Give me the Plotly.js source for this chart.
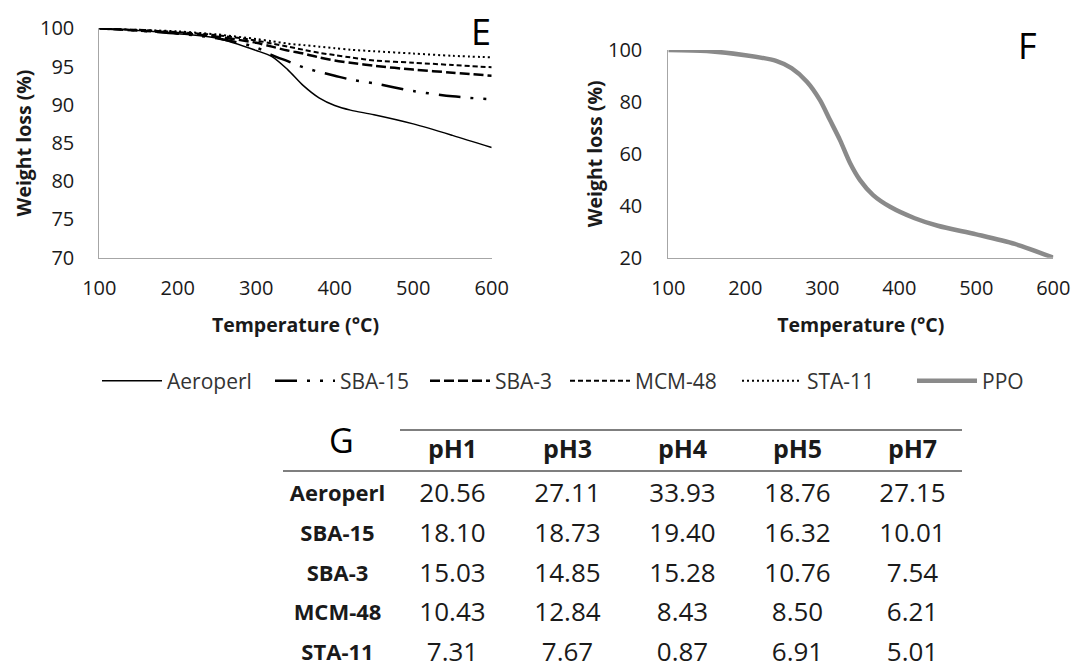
<!DOCTYPE html>
<html><head><meta charset="utf-8">
<script src="https://cdn.plot.ly/plotly-3.0.1.min.js"></script>
<style>html,body{margin:0;padding:0;background:#fff}#chart{width:1073px;height:671px}</style>
</head><body><div id="chart"></div>
<script>
// ---- Panel E data (TGA of loaded carriers) ----
const tempE    = [100,150,200,250,300,320,340,360,380,400,420,450,500,550,600];
const aeroperl = [100,99.7,99.3,98.7,97.1,96.3,94.6,92.5,90.9,89.9,89.3,88.7,87.5,86.0,84.4];
const sba15    = [100,99.7,99.3,98.7,97.5,96.5,95.7,94.9,94.3,93.8,93.3,92.8,91.8,91.1,90.7];
const sba3     = [100,99.7,99.4,98.9,98.1,97.6,97.1,96.7,96.2,95.8,95.5,95.1,94.6,94.2,93.8];
const mcm48    = [100,99.8,99.5,99.1,98.4,98.0,97.6,97.2,96.8,96.5,96.2,95.8,95.5,95.2,94.9];
const sta11    = [100,99.8,99.6,99.2,98.6,98.3,98.0,97.8,97.6,97.4,97.2,97.0,96.7,96.4,96.2];
// ---- Panel F data (pure PPO) ----
const tempF = [100,150,200,240,260,280,297,310,323,336,349,366,388,420,450,500,550,600];
const ppo   = [100,99.6,98.0,95.8,93.0,87.8,80.7,73.0,65.3,56.5,49.9,44.1,39.6,35.2,32.3,29.0,25.3,20.0];
// ---- Panel G table ----
const labelCol  = 'Sample';
const rowLabels = ['Aeroperl','SBA-15','SBA-3','MCM-48','STA-11'];
const phLabels  = ['pH1','pH3','pH4','pH5','pH7'];
const pH1 = [20.56,18.10,15.03,10.43,7.31];
const pH3 = [27.11,18.73,14.85,12.84,7.67];
const pH4 = [33.93,19.40,15.28,8.43,0.87];
const pH5 = [18.76,16.32,10.76,8.50,6.91];
const pH7 = [27.15,10.01,7.54,6.21,5.01];

const W = 1073, H = 671;
const px = v => v / W, py = v => 1 - v / H;
const FONT = 'Open Sans, Lato, sans-serif';
const TXT = '#1a1a1a';
const AX = '#a6a6a6';

const phCols = [pH1, pH3, pH4, pH5, pH7];
const tX = [], tY = [], tT = [];
phCols.forEach((col, j) => col.forEach((v, i) => { tX.push(phLabels[j]); tY.push(rowLabels[i]); tT.push(v.toFixed(2)); }));

const traces = [
  {x: tempE, y: aeroperl, name: 'Aeroperl', type: 'scatter', mode: 'lines', line: {color: '#000', width: 1.5, shape: 'spline', smoothing: 0.8}, legendwidth: 98, xaxis: 'x', yaxis: 'y'},
  {x: tempE, y: sba15, name: 'SBA-15', type: 'scatter', mode: 'lines', line: {color: '#000', width: 2.5, dash: '22px,10px,3px,10px,3px,10px', shape: 'spline', smoothing: 0.8}, legendwidth: 80, xaxis: 'x', yaxis: 'y'},
  {x: tempE, y: sba3, name: 'SBA-3', type: 'scatter', mode: 'lines', line: {color: '#000', width: 2.5, dash: '10px,4px', shape: 'spline', smoothing: 0.8}, legendwidth: 65, xaxis: 'x', yaxis: 'y'},
  {x: tempE, y: mcm48, name: 'MCM-48', type: 'scatter', mode: 'lines', line: {color: '#000', width: 2, dash: '5px,3px', shape: 'spline', smoothing: 0.8}, legendwidth: 97, xaxis: 'x', yaxis: 'y'},
  {x: tempE, y: sta11, name: 'STA-11', type: 'scatter', mode: 'lines', line: {color: '#000', width: 2, dash: '2px,3px', shape: 'spline', smoothing: 0.8}, legendwidth: 100, xaxis: 'x', yaxis: 'y'},
  {x: tempF, y: ppo, name: 'PPO', type: 'scatter', mode: 'lines', line: {color: '#8a8a8a', width: 4.5, shape: 'spline', smoothing: 0.8}, xaxis: 'x2', yaxis: 'y2'},
  // table: row labels
  {x: rowLabels.map(() => labelCol), y: rowLabels, text: rowLabels, type: 'scatter', mode: 'text', showlegend: false, cliponaxis: false,
   textfont: {family: FONT, size: 22, color: TXT, weight: 'bold'}, xaxis: 'x3', yaxis: 'y3', hoverinfo: 'skip'},
  // table: values
  {x: tX, y: tY, text: tT, type: 'scatter', mode: 'text', showlegend: false, cliponaxis: false,
   textfont: {family: FONT, size: 26, color: TXT}, xaxis: 'x3', yaxis: 'y3', hoverinfo: 'skip'}
];

const axisCommon = {
  showline: true, linecolor: AX, linewidth: 1, showgrid: false, zeroline: false,
  ticks: 'outside', tickcolor: 'rgba(0,0,0,0)', tickfont: {family: FONT, size: 20, color: TXT},
  fixedrange: true
};
const titleFont = {family: FONT, size: 19.5, color: TXT, weight: 'bold'};

const layout = {
  width: W, height: H,
  margin: {l: 0, r: 0, t: 0, b: 0},
  paper_bgcolor: '#fff', plot_bgcolor: 'rgba(0,0,0,0)',
  font: {family: FONT, color: TXT},
  showlegend: true,
  legend: {
    orientation: 'h', x: px(97), xanchor: 'left', y: py(381), yanchor: 'middle', itemwidth: 60,
    font: {family: FONT, size: 21, color: '#333'}, bgcolor: 'rgba(0,0,0,0)'
  },
  xaxis: Object.assign({}, axisCommon, {
    domain: [px(99.3), px(491.7)], range: [100, 600], dtick: 100, ticklen: 12, anchor: 'y',
    title: {text: 'Temperature (°C)', font: titleFont, standoff: 18}
  }),
  yaxis: Object.assign({}, axisCommon, {
    domain: [py(257.7), py(28.3)], range: [70, 100], dtick: 5, ticklen: 20, anchor: 'x',
    title: {text: 'Weight loss (%)', font: titleFont, standoff: 3}
  }),
  xaxis2: Object.assign({}, axisCommon, {
    domain: [px(668.3), px(1053.3)], range: [100, 600], dtick: 100, ticklen: 12, anchor: 'y2',
    title: {text: 'Temperature (°C)', font: titleFont, standoff: 18}
  }),
  yaxis2: Object.assign({}, axisCommon, {
    domain: [py(257.7), py(50)], range: [20, 100], dtick: 20, ticklen: 21, anchor: 'x2',
    title: {text: 'Weight loss (%)', font: titleFont, standoff: 0}
  }),
  xaxis3: {
    domain: [px(280), px(970)], type: 'category', categoryarray: [labelCol].concat(phLabels), categoryorder: 'array',
    range: [-0.5, 5.5], side: 'top', tickvals: phLabels, ticks: 'outside', ticklen: 4, tickcolor: 'rgba(0,0,0,0)',
    tickfont: {family: FONT, size: 25, color: TXT, weight: 'bold'},
    showline: false, showgrid: false, zeroline: false, anchor: 'y3', fixedrange: true
  },
  yaxis3: {
    domain: [0, py(473)], type: 'category', categoryarray: rowLabels, categoryorder: 'array',
    range: [4.424, -0.576], showticklabels: false, ticks: '', showline: false, showgrid: false, zeroline: false,
    anchor: 'x3', fixedrange: true
  },
  annotations: [
    {text: 'E', xref: 'paper', yref: 'paper', x: px(481), y: py(31), xanchor: 'center', yanchor: 'middle', showarrow: false, font: {family: FONT, size: 36, color: '#000'}},
    {text: 'F', xref: 'paper', yref: 'paper', x: px(1027), y: py(45), xanchor: 'center', yanchor: 'middle', showarrow: false, font: {family: FONT, size: 36, color: '#000'}},
    {text: 'G', xref: 'paper', yref: 'paper', x: px(341), y: py(440), xanchor: 'center', yanchor: 'middle', showarrow: false, font: {family: FONT, size: 34, color: '#000'}}
  ],
  shapes: [
    {type: 'line', xref: 'paper', yref: 'paper', x0: px(400), x1: px(962), y0: py(430), y1: py(430), line: {color: '#555', width: 1.5}},
    {type: 'line', xref: 'paper', yref: 'paper', x0: px(283), x1: px(962), y0: py(471), y1: py(471), line: {color: '#555', width: 1.5}}
  ]
};

Plotly.newPlot('chart', traces, layout, {displayModeBar: false, staticPlot: true});
</script>
</body></html>
